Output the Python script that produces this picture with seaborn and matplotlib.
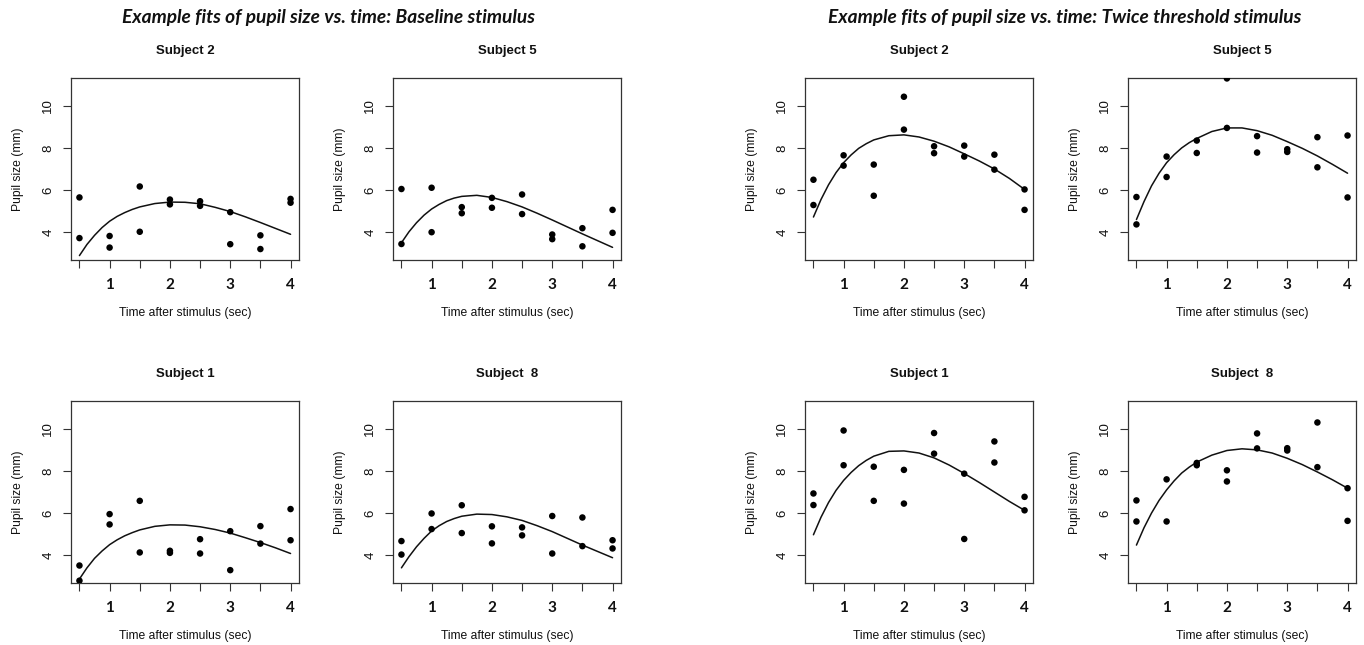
import numpy as np
import pandas as pd
import matplotlib
matplotlib.use("Agg")
import matplotlib.pyplot as plt
import seaborn as sns

# ---------------- data ----------------
times = [0.5, 1.0, 1.5, 2.0, 2.5, 3.0, 3.5, 4.0]
curve_times = [0.5, 0.625, 0.75, 0.875, 1.0, 1.125, 1.25, 1.375, 1.5, 1.75,
               2.0, 2.25, 2.5, 2.75, 3.0, 3.25, 3.5, 3.75, 4.0]

group_titles = ["Example fits of pupil size vs. time: Baseline stimulus",
                "Example fits of pupil size vs. time: Twice threshold stimulus"]
panel_titles = ["Subject 2", "Subject 5", "Subject 1", "Subject  8"]

# two observations per time point (upper, lower)
base_s2_hi = [5.65, 3.82, 6.17, 5.55, 5.47, 4.95, 3.85, 5.58]
base_s2_lo = [3.72, 3.27, 4.02, 5.32, 5.25, 3.43, 3.20, 5.40]
base_s5_hi = [6.05, 6.11, 5.19, 5.63, 5.79, 3.89, 4.19, 5.06]
base_s5_lo = [3.44, 4.00, 4.90, 5.16, 4.86, 3.67, 3.33, 3.97]
base_s1_hi = [3.51, 5.95, 6.58, 4.21, 4.76, 5.14, 5.38, 6.19]
base_s1_lo = [2.79, 5.46, 4.13, 4.11, 4.08, 3.29, 4.55, 4.71]
base_s8_hi = [4.67, 5.98, 6.37, 5.37, 5.32, 5.86, 5.79, 4.71]
base_s8_lo = [4.03, 5.24, 5.05, 4.56, 4.94, 4.08, 4.43, 4.32]

twice_s2_hi = [6.49, 7.65, 7.21, 10.43, 8.08, 8.11, 7.68, 6.03]
twice_s2_lo = [5.29, 7.16, 5.73, 8.87, 7.75, 7.59, 6.97, 5.06]
twice_s5_hi = [5.67, 7.59, 8.35, 11.30, 8.56, 7.94, 8.51, 8.59]
twice_s5_lo = [4.37, 6.62, 7.76, 8.95, 7.78, 7.81, 7.08, 5.65]
twice_s1_hi = [6.93, 9.92, 8.20, 8.05, 9.80, 7.87, 9.40, 6.77]
twice_s1_lo = [6.38, 8.27, 6.58, 6.45, 8.82, 4.77, 8.40, 6.13]
twice_s8_hi = [6.60, 7.60, 8.38, 8.03, 9.78, 9.08, 10.30, 7.18]
twice_s8_lo = [5.60, 5.60, 8.27, 7.50, 9.07, 8.97, 8.18, 5.63]

# fitted curves (at curve_times)
base_s2_fit = [2.89, 3.42, 3.85, 4.22, 4.52, 4.75, 4.93, 5.08, 5.20, 5.36,
               5.43, 5.42, 5.35, 5.18, 4.98, 4.73, 4.46, 4.18, 3.90]
base_s5_fit = [3.50, 4.02, 4.45, 4.81, 5.10, 5.32, 5.50, 5.62, 5.70, 5.75,
               5.65, 5.45, 5.20, 4.90, 4.58, 4.25, 3.92, 3.60, 3.28]
base_s1_fit = [2.87, 3.40, 3.85, 4.20, 4.50, 4.73, 4.92, 5.07, 5.20, 5.37,
               5.44, 5.43, 5.35, 5.22, 5.05, 4.83, 4.60, 4.35, 4.08]
base_s8_fit = [3.40, 3.93, 4.40, 4.80, 5.15, 5.40, 5.60, 5.74, 5.85, 5.95,
               5.93, 5.82, 5.65, 5.40, 5.12, 4.80, 4.48, 4.18, 3.88]
twice_s2_fit = [4.72, 5.55, 6.25, 6.83, 7.30, 7.67, 7.98, 8.20, 8.38, 8.58,
                8.62, 8.52, 8.32, 8.05, 7.72, 7.38, 7.00, 6.55, 6.03]
twice_s5_fit = [4.60, 5.45, 6.20, 6.80, 7.30, 7.68, 8.00, 8.25, 8.45, 8.78,
                8.95, 8.95, 8.82, 8.60, 8.30, 7.98, 7.62, 7.22, 6.80]
twice_s1_fit = [4.97, 5.80, 6.50, 7.08, 7.55, 7.93, 8.25, 8.50, 8.70, 8.93,
                8.95, 8.85, 8.62, 8.28, 7.88, 7.45, 7.00, 6.55, 6.13]
twice_s8_fit = [4.48, 5.30, 6.00, 6.60, 7.10, 7.53, 7.90, 8.18, 8.42, 8.75,
                8.97, 9.05, 9.00, 8.85, 8.60, 8.30, 7.95, 7.58, 7.18]

panels = [
    (0, 0, 0, base_s2_hi, base_s2_lo, base_s2_fit),
    (0, 0, 1, base_s5_hi, base_s5_lo, base_s5_fit),
    (0, 1, 0, base_s1_hi, base_s1_lo, base_s1_fit),
    (0, 1, 1, base_s8_hi, base_s8_lo, base_s8_fit),
    (1, 0, 0, twice_s2_hi, twice_s2_lo, twice_s2_fit),
    (1, 0, 1, twice_s5_hi, twice_s5_lo, twice_s5_fit),
    (1, 1, 0, twice_s1_hi, twice_s1_lo, twice_s1_fit),
    (1, 1, 1, twice_s8_hi, twice_s8_lo, twice_s8_fit),
]

# ---------------- style ----------------
sns.set_theme(style="ticks")
plt.rcParams["font.family"] = ["Liberation Sans", "DejaVu Sans"]
plt.rcParams["axes.edgecolor"] = "#333333"
plt.rcParams["axes.linewidth"] = 0.9

W, H = 1364, 645
fig = plt.figure(figsize=(W / 100, H / 100), dpi=100)
fig.patch.set_facecolor("white")

col_left = [[71, 393], [805, 1128]]
row_top = [78, 401]
aw, ah = 228, 182

for grp, r, c, hi, lo, fit in panels:
    left = col_left[grp][c]
    top = row_top[r]
    ax = fig.add_axes([left / W, 1 - (top + ah) / H, aw / W, ah / H])
    ax.set_facecolor("white")

    pts = pd.DataFrame({"time": times + times, "size": hi + lo})
    sns.scatterplot(data=pts, x="time", y="size", ax=ax, color="black",
                    s=22, edgecolor="none", zorder=3)
    cur = pd.DataFrame({"time": curve_times, "size": fit})
    sns.lineplot(data=cur, x="time", y="size", ax=ax, color="#111111",
                 linewidth=1.1, zorder=2)

    ax.set_xlim(0.36, 4.14)
    ax.set_ylim(2.68, 11.32)
    ax.set_xticks(times)
    ax.set_xticklabels(["", "1", "", "2", "", "3", "", "4"],
                       fontfamily="Lato", fontweight="bold", fontsize=11)
    ax.set_yticks([4, 6, 8, 10])
    ax.set_yticklabels(["4", "6", "8", "10"], fontsize=9.5, rotation=90,
                       va="center")
    ax.tick_params(axis="both", direction="out", length=6, width=0.8,
                   color="#333333", labelcolor="#111111")
    ax.tick_params(axis="y", pad=6)
    ax.tick_params(axis="x", pad=7)
    for sp in ax.spines.values():
        sp.set_visible(True)
        sp.set_color("#333333")

    ax.set_xlabel("Time after stimulus (sec)", fontsize=8.7, color="#111111")
    ax.set_ylabel("Pupil size (mm)", fontsize=8.7, color="#111111")
    ax.xaxis.set_label_coords(0.5, -47 / ah)
    ax.yaxis.set_label_coords(-47 / aw, 0.5)
    ax.set_title(panel_titles[r * 2 + c], fontsize=9.5, fontweight="bold",
                 pad=17, color="#111111")

fig.text(329 / W, 1 - 17 / H, group_titles[0], ha="center", va="center",
         fontfamily="Lato", fontweight="bold", fontstyle="italic",
         fontsize=13.8, color="#111111")
fig.text(1065 / W, 1 - 17 / H, group_titles[1], ha="center", va="center",
         fontfamily="Lato", fontweight="bold", fontstyle="italic",
         fontsize=13.8, color="#111111")

fig.savefig("out.png", dpi=100, facecolor="white")
